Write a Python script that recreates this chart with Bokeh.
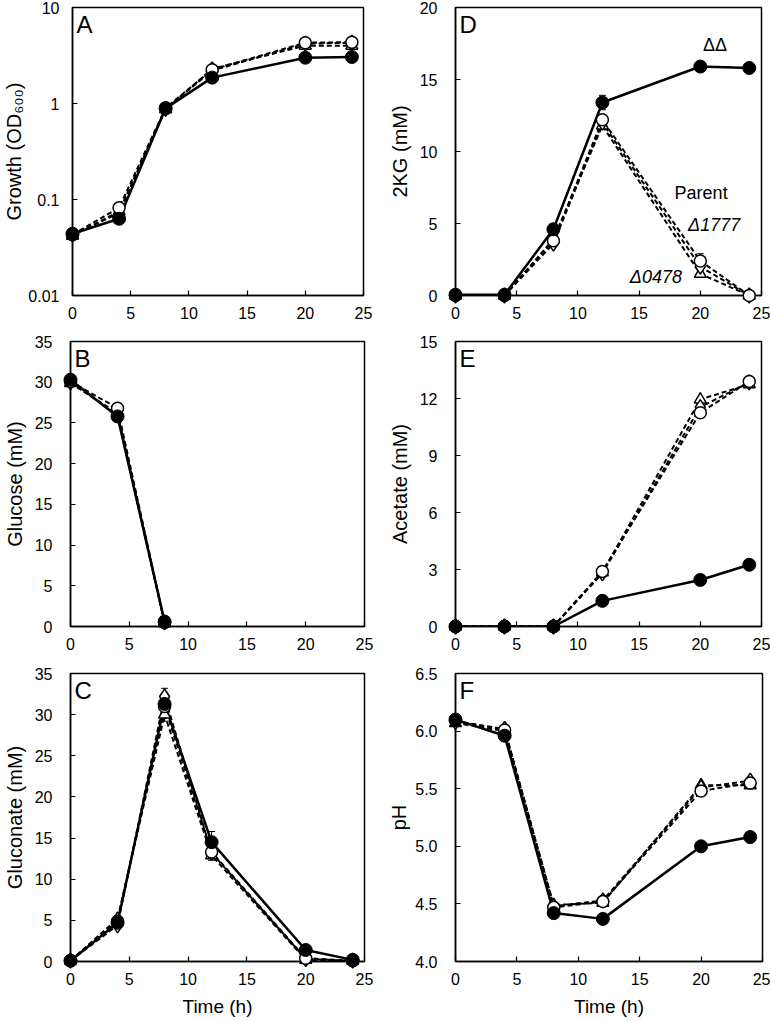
from bokeh.plotting import figure
from bokeh.layouts import column, row
from bokeh.models import (Range1d, FixedTicker, NumeralTickFormatter, Label,
                          Whisker, ColumnDataSource, TeeHead)
from bokeh.embed import file_html
from bokeh.resources import INLINE

FONT = "Liberation Sans"

# Sampling times (h)
TIME = [0, 4, 8, 12, 20, 24]
GLC_TIME = [0, 4, 8]

STRAIN_NAMES = ["ΔΔ", "Parent", "Δ1777", "Δ0478"]

# A: growth (OD600)
OD_DD = [0.044, 0.063, 0.89, 1.86, 3.0, 3.05]
OD_PAR = [0.043, 0.082, 0.90, 2.25, 4.3, 4.35]
OD_1777 = [0.043, 0.072, 0.88, 2.2, 4.2, 4.3]
OD_0478 = [0.042, 0.075, 0.87, 2.3, 4.0, 4.0]

# B: glucose (mM)
GLC_DD = [30.3, 25.8, 0.6]
GLC_PAR = [30.1, 26.8, 0.5]
GLC_1777 = [30.0, 26.0, 0.5]
GLC_0478 = [29.9, 26.2, 0.4]

# C: gluconate (mM)
GLN_DD = [0.1, 4.7, 31.3, 14.5, 1.4, 0.2]
GLN_PAR = [0.1, 4.9, 31.0, 13.3, 0.4, 0.1]
GLN_1777 = [0.1, 4.4, 32.2, 13.2, 0.3, 0.1]
GLN_0478 = [0.1, 5.2, 30.0, 12.9, 0.2, 0.1]
GLN_DD_ERR = [0, 0.3, 0.5, 1.3, 0.2, 0]
GLN_1777_ERR = [0, 0.2, 1.0, 0.4, 0, 0]
GLN_0478_ERR = [0, 0.3, 0.8, 0.6, 0, 0]

# D: 2-ketoglutarate (mM)
KG_DD = [0.05, 0.05, 4.6, 13.4, 15.9, 15.8]
KG_PAR = [0.0, 0.0, 3.8, 12.2, 2.4, 0.0]
KG_1777 = [0.0, 0.0, 3.6, 12.0, 2.0, 0.0]
KG_0478 = [0.0, 0.0, 3.9, 11.8, 1.5, 0.0]
KG_DD_ERR = [0, 0, 0.4, 0.5, 0.1, 0.1]
KG_PAR_ERR = [0, 0, 0.2, 0.3, 0.5, 0]

# E: acetate (mM)
AC_DD = [0, 0, 0, 1.35, 2.45, 3.25]
AC_PAR = [0, 0, 0, 2.9, 11.25, 12.9]
AC_1777 = [0, 0, 0, 2.8, 11.55, 12.85]
AC_0478 = [0, 0, 0, 2.85, 11.95, 12.75]

# F: pH
PH_DD = [6.10, 5.96, 4.42, 4.37, 5.00, 5.08]
PH_PAR = [6.09, 6.01, 4.47, 4.52, 5.48, 5.55]
PH_1777 = [6.08, 6.02, 4.48, 4.53, 5.51, 5.57]
PH_0478 = [6.07, 6.00, 4.49, 4.51, 5.53, 5.53]


def make_panel(letter, ylabel, yrange, yticks, size, borders, xlabel=None,
               log=False, fmt=None, ystand=18, lstand=6):
    w, h = size
    l, r, t, b = borders
    p = figure(width=w, height=h, output_backend="svg", toolbar_location=None,
               x_range=Range1d(0, 25), y_range=Range1d(*yrange),
               y_axis_type="log" if log else "linear",
               min_border_left=l, min_border_right=r,
               min_border_top=t, min_border_bottom=b,
               background_fill_color="white", border_fill_color="white")
    p.grid.visible = False
    p.outline_line_color = "black"
    p.outline_line_width = 1.5
    p.outline_line_alpha = 1.0
    for ax in (p.xaxis[0], p.yaxis[0]):
        ax.axis_line_width = 1.5
        ax.axis_line_color = "black"
        ax.major_tick_in = 5
        ax.major_tick_out = 0
        ax.major_tick_line_width = 1.2
        ax.minor_tick_line_color = None
        ax.major_label_text_font = FONT
        ax.major_label_text_font_size = "16px"
        ax.major_label_text_color = "black"
        ax.axis_label_text_font = FONT
        ax.axis_label_text_font_style = "normal"
        ax.axis_label_text_color = "black"
    p.xaxis.axis_label_text_font_size = "19px"
    p.yaxis.axis_label_text_font_size = "20px"
    p.xaxis.ticker = FixedTicker(ticks=[0, 5, 10, 15, 20, 25])
    p.xaxis.major_label_standoff = 11
    p.yaxis.ticker = FixedTicker(ticks=yticks)
    p.yaxis.major_label_standoff = ystand
    p.yaxis.axis_label = ylabel
    p.yaxis.axis_label_standoff = lstand
    if xlabel:
        p.xaxis.axis_label = xlabel
        p.xaxis.axis_label_standoff = 8
    if fmt is not None:
        p.yaxis.formatter = fmt
    p.add_layout(Label(x=0, y=yrange[1], x_offset=4, y_offset=-3, text=letter,
                       text_baseline="top", text_font=FONT,
                       text_font_size="24px", text_color="black"))
    return p


def draw_series(p, t, dd, par, d1777, d0478, errs=()):
    # open-symbol strains: dashed lines
    for ys in (par, d1777, d0478):
        p.line(t, ys, line_color="black", line_width=2, line_dash="5 3")
    p.line(t, dd, line_color="black", line_width=2.5)
    # error bars
    for ys, es in errs:
        xs = [x for x, e in zip(t, es) if e > 0]
        up = [y + e for y, e in zip(ys, es) if e > 0]
        lo = [y - e for y, e in zip(ys, es) if e > 0]
        src = ColumnDataSource(dict(x=xs, upper=up, lower=lo))
        p.add_layout(Whisker(source=src, base="x", upper="upper", lower="lower",
                             line_color="black", line_width=1,
                             upper_head=TeeHead(size=7, line_width=1),
                             lower_head=TeeHead(size=7, line_width=1)))
    p.scatter(t, d0478, marker="triangle", size=12, fill_color="white",
              line_color="black", line_width=1.5, level="overlay")
    p.scatter(t, d1777, marker="diamond", size=15, fill_color="white",
              line_color="black", line_width=1.5, level="overlay")
    p.scatter(t, par, marker="circle", size=12, fill_color="white",
              line_color="black", line_width=1.5, level="overlay")
    p.scatter(t, dd, marker="circle", size=13, fill_color="black",
              line_color="black", line_width=1, level="overlay")


pa = make_panel("A", "Growth (OD₆₀₀)", (0.01, 10), [0.01, 0.1, 1, 10],
                (385, 330), (68, 22, 7, 35), log=True, ystand=13, lstand=0)
pa.yaxis.major_label_overrides = {0.01: "0.01", 0.1: "0.1", 1: "1", 10: "10"}
draw_series(pa, TIME, OD_DD, OD_PAR, OD_1777, OD_0478)

pd_ = make_panel("D", "2KG (mM)", (0, 20), [0, 5, 10, 15, 20],
                 (385, 330), (66, 9, 7, 35))
draw_series(pd_, TIME, KG_DD, KG_PAR, KG_1777, KG_0478,
            errs=[(KG_DD, KG_DD_ERR), (KG_PAR, KG_PAR_ERR)])
for name, x, y, align, style in [
        (STRAIN_NAMES[0], 21.2, 17.4, "center", "normal"),
        (STRAIN_NAMES[1], 17.9, 7.15, "left", "normal"),
        (STRAIN_NAMES[2], 19.0, 4.9, "left", "italic"),
        (STRAIN_NAMES[3], 18.5, 1.3, "right", "italic")]:
    pd_.add_layout(Label(x=x, y=y, text=name, text_align=align,
                         text_baseline="middle", text_font=FONT,
                         text_font_size="18px", text_font_style=style,
                         text_color="black"))

pb = make_panel("B", "Glucose (mM)", (0, 35), [0, 5, 10, 15, 20, 25, 30, 35],
                (385, 330), (66, 21, 11, 34))
draw_series(pb, GLC_TIME, GLC_DD, GLC_PAR, GLC_1777, GLC_0478)

pe = make_panel("E", "Acetate (mM)", (0, 15), [0, 3, 6, 9, 12, 15],
                (385, 330), (66, 9, 10, 34))
draw_series(pe, TIME, AC_DD, AC_PAR, AC_1777, AC_0478)

pc = make_panel("C", "Gluconate (mM)", (0, 35), [0, 5, 10, 15, 20, 25, 30, 35],
                (385, 361), (66, 21, 13, 60), xlabel="Time (h)")
draw_series(pc, TIME, GLN_DD, GLN_PAR, GLN_1777, GLN_0478,
            errs=[(GLN_DD, GLN_DD_ERR), (GLN_1777, GLN_1777_ERR),
                  (GLN_0478, GLN_0478_ERR)])

pf = make_panel("F", "pH", (4.0, 6.5), [4.0, 4.5, 5.0, 5.5, 6.0, 6.5],
                (385, 361), (66, 8, 13, 59), xlabel="Time (h)",
                fmt=NumeralTickFormatter(format="0.0"), lstand=2)
draw_series(pf, TIME, PH_DD, PH_PAR, PH_1777, PH_0478)

layout = column(row(pa, pd_), row(pb, pe), row(pc, pf))

with open("out.html", "w") as f:
    f.write(file_html(layout, INLINE))
